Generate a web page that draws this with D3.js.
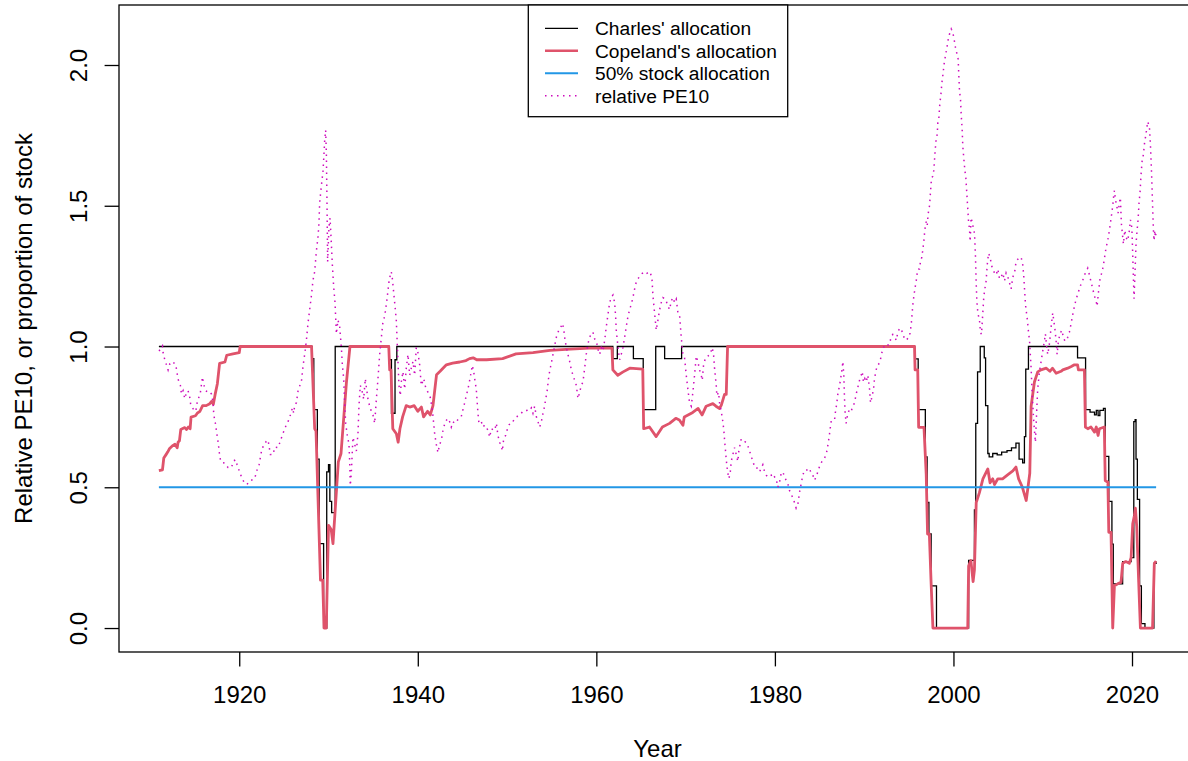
<!DOCTYPE html>
<html>
<head>
<meta charset="utf-8">
<script src="https://cdn.jsdelivr.net/npm/d3@7"></script>
<style>
  body { margin: 0; background: #fff; }
  svg { display: block; font-family: "Liberation Sans", Arial, sans-serif; }
</style>
</head>
<body>
<svg id="svg0" width="1188" height="761"></svg>
<script>

// ---- data: [year, value] ----
var charlesAlloc = [
  [1911.0,1.0],[1928.15,0.957],[1928.35,0.776],[1928.75,0.60],[1928.95,0.30],[1929.45,0.0],
  [1929.8,0.555],[1930.0,0.58],[1930.15,0.45],[1930.35,0.41],[1930.75,1.0],[1936.8,0.953],
  [1937.05,0.763],[1937.45,0.953],[1937.65,1.0],[1961.85,0.957],[1962.35,1.0],[1964.15,0.957],
  [1965.25,0.776],[1966.65,1.0],[1967.65,0.957],[1969.55,1.0],[1995.65,0.956],[1996.05,0.776],
  [1996.85,0.608],[1997.05,0.446],[1997.25,0.334],[1997.5,0.15],[1998.1,0.0],[2001.7,0.24],
  [2002.35,0.42],[2002.5,0.727],[2002.7,0.91],[2003.0,1.0],[2003.45,0.96],[2003.6,0.79],
  [2003.85,0.62],[2004.0,0.608],[2004.4,0.62],[2004.9,0.615],[2005.4,0.625],[2006.0,0.63],
  [2006.5,0.64],[2007.0,0.657],[2007.35,0.60],[2007.75,0.587],[2007.95,0.68],[2008.1,0.92],
  [2008.4,1.0],[2013.9,0.96],[2014.8,0.776],[2015.3,0.767],[2015.8,0.757],[2016.0,0.773],
  [2016.2,0.755],[2016.4,0.773],[2016.8,0.78],[2017.0,0.61],[2017.4,0.45],[2017.75,0.298],
  [2017.9,0.157],[2018.95,0.236],[2019.9,0.25],[2020.2,0.733],[2020.35,0.74],[2020.45,0.60],
  [2020.6,0.457],[2020.85,0.15],[2021.05,0.016],[2021.45,0.0],[2022.45,0.23],[2022.7,0.236]
];

var copelandAlloc = [
  [1911.0,0.559],[1911.4,0.562],[1911.55,0.604],[1911.8,0.616],[1912.0,0.626],[1912.2,0.638],
  [1912.5,0.647],[1912.8,0.653],[1913.05,0.64],[1913.15,0.66],[1913.3,0.665],[1913.45,0.705],
  [1913.9,0.712],[1914.1,0.705],[1914.3,0.714],[1914.5,0.708],[1914.6,0.749],[1915.1,0.754],
  [1915.3,0.763],[1915.6,0.77],[1915.9,0.79],[1916.3,0.79],[1916.7,0.797],[1916.9,0.805],
  [1917.1,0.795],[1917.3,0.83],[1917.55,0.868],[1917.8,0.94],[1918.4,0.945],[1918.6,0.969],
  [1919.3,0.974],[1920.0,0.978],[1920.1,1.0],[1928.1,1.0],[1928.45,0.708],[1928.6,0.70],
  [1929.1,0.17],[1929.35,0.17],[1929.5,0.0],[1929.75,0.0],[1930.0,0.365],[1930.3,0.35],
  [1930.5,0.30],[1931.1,0.59],[1931.4,0.62],[1932.0,0.87],[1932.4,1.0],[1936.75,1.0],
  [1936.85,0.917],[1937.0,0.917],[1937.2,0.708],[1937.6,0.69],[1937.8,0.66],[1938.0,0.708],
  [1938.3,0.75],[1938.7,0.79],[1939.1,0.785],[1939.6,0.79],[1940.0,0.77],[1940.4,0.785],
  [1940.65,0.75],[1941.1,0.77],[1941.4,0.757],[1941.7,0.79],[1942.1,0.90],[1942.5,0.912],
  [1943.2,0.935],[1943.9,0.941],[1944.7,0.945],[1945.4,0.95],[1945.8,0.957],[1946.2,0.96],
  [1946.6,0.953],[1947.7,0.953],[1949.5,0.957],[1951.0,0.974],[1952.9,0.978],[1954.8,0.986],
  [1956.6,0.99],[1959.2,0.994],[1961.75,0.994],[1961.85,0.917],[1962.4,0.898],[1963.0,0.91],
  [1963.75,0.923],[1965.2,0.92],[1965.3,0.708],[1965.95,0.714],[1966.7,0.68],[1967.4,0.714],
  [1968.2,0.727],[1968.9,0.745],[1969.3,0.739],[1969.7,0.72],[1969.85,0.75],[1970.8,0.766],
  [1971.4,0.78],[1971.85,0.757],[1972.3,0.788],[1973.05,0.797],[1973.4,0.788],[1973.8,0.78],
  [1974.0,0.792],[1974.36,0.83],[1974.55,0.83],[1974.7,1.0],[1995.64,1.0],[1995.7,0.917],
  [1996.0,0.917],[1996.1,0.713],[1996.7,0.713],[1996.95,0.545],[1997.1,0.334],[1997.3,0.334],
  [1997.5,0.158],[1997.7,0.0],[2001.6,0.0],[2001.7,0.22],[2001.95,0.24],[2002.2,0.165],
  [2002.35,0.207],[2002.55,0.446],[2002.9,0.48],[2003.3,0.53],[2003.85,0.565],[2004.1,0.516],
  [2004.4,0.53],[2004.6,0.51],[2004.97,0.53],[2005.5,0.53],[2006.1,0.545],[2006.65,0.558],
  [2007.0,0.572],[2007.3,0.53],[2007.7,0.502],[2008.15,0.453],[2008.35,0.50],[2008.55,0.55],
  [2008.7,0.788],[2009.07,0.874],[2009.44,0.91],[2009.8,0.917],[2010.4,0.923],[2010.8,0.912],
  [2011.1,0.923],[2011.5,0.905],[2012.05,0.912],[2012.25,0.917],[2012.8,0.923],[2013.2,0.929],
  [2013.55,0.935],[2013.9,0.935],[2014.0,0.917],[2014.67,0.917],[2014.78,0.714],[2015.05,0.708],
  [2015.4,0.714],[2015.8,0.696],[2016.0,0.714],[2016.2,0.684],[2016.35,0.708],[2016.9,0.714],
  [2017.0,0.524],[2017.3,0.518],[2017.4,0.34],[2017.65,0.34],[2017.84,0.0],[2018.03,0.15],
  [2018.4,0.157],[2018.77,0.163],[2018.96,0.23],[2019.3,0.236],[2019.7,0.23],[2019.9,0.25],
  [2020.08,0.37],[2020.27,0.40],[2020.38,0.426],[2020.53,0.36],[2020.75,0.163],[2020.94,0.0],
  [2022.3,0.0],[2022.5,0.23],[2022.7,0.238]
];

var stockFifty = [[1911.0,0.5],[2022.7,0.5]];

var relativePE10 = [
  [1911.02,0.984],[1911.40,1.002],[1911.47,0.978],[1911.66,0.953],[1911.85,0.935],[1912.03,0.917],
  [1912.22,0.938],[1912.52,0.947],[1912.89,0.935],[1913.15,0.884],[1913.41,0.862],[1913.53,0.831],
  [1913.71,0.843],[1913.90,0.815],[1914.09,0.837],[1914.27,0.843],[1914.46,0.819],[1914.57,0.792],
  [1914.83,0.779],[1915.13,0.770],[1915.28,0.800],[1915.50,0.822],[1915.65,0.837],[1915.88,0.892],
  [1916.03,0.864],[1916.25,0.843],[1916.51,0.837],[1916.70,0.839],[1916.89,0.831],[1917.07,0.800],
  [1917.15,0.757],[1917.33,0.727],[1917.52,0.684],[1917.67,0.653],[1917.74,0.629],[1917.89,0.598],
  [1918.04,0.588],[1918.38,0.586],[1918.75,0.570],[1919.12,0.570],[1919.39,0.594],[1919.61,0.598],
  [1919.76,0.580],[1920.06,0.553],[1920.36,0.528],[1920.62,0.515],[1920.88,0.510],[1921.10,0.521],
  [1921.36,0.525],[1921.74,0.531],[1921.92,0.555],[1922.22,0.580],[1922.48,0.626],[1922.75,0.653],
  [1923.04,0.663],[1923.23,0.668],[1923.49,0.616],[1923.79,0.616],[1923.98,0.643],[1924.35,0.641],
  [1924.61,0.665],[1924.91,0.692],[1925.17,0.714],[1925.47,0.733],[1925.73,0.757],[1925.96,0.782],
  [1926.10,0.763],[1926.22,0.794],[1926.40,0.800],[1926.59,0.843],[1926.77,0.860],[1926.96,0.874],
  [1927.14,0.929],[1927.33,0.972],[1927.52,1.021],[1927.70,1.082],[1927.89,1.131],[1928.08,1.180],
  [1928.26,1.235],[1928.45,1.266],[1928.64,1.339],[1928.82,1.388],[1928.93,1.438],[1929.01,1.511],
  [1929.20,1.572],[1929.38,1.621],[1929.49,1.683],[1929.57,1.732],[1929.68,1.768],[1929.76,1.683],
  [1929.83,1.511],[1929.90,1.300],[1930.05,1.425],[1930.17,1.456],[1930.32,1.364],[1930.43,1.290],
  [1930.58,1.211],[1930.73,1.156],[1930.88,1.045],[1931.06,1.094],[1931.25,1.070],[1931.44,0.996],
  [1931.55,0.935],[1931.70,0.886],[1931.81,0.800],[1931.92,0.727],[1932.11,0.684],[1932.29,0.653],
  [1932.37,0.592],[1932.44,0.506],[1932.56,0.555],[1932.74,0.678],[1932.93,0.653],[1933.12,0.629],
  [1933.30,0.690],[1933.41,0.788],[1933.56,0.862],[1933.75,0.843],[1933.94,0.813],[1934.12,0.886],
  [1934.24,0.855],[1934.42,0.813],[1934.61,0.788],[1934.80,0.770],[1934.98,0.757],[1935.17,0.727],
  [1935.36,0.813],[1935.54,0.886],[1935.73,0.972],[1935.92,1.033],[1936.10,1.088],[1936.29,1.107],
  [1936.55,1.168],[1936.77,1.229],[1936.92,1.254],[1937.03,1.266],[1937.15,1.241],[1937.30,1.192],
  [1937.45,1.143],[1937.59,1.094],[1937.67,1.033],[1937.78,0.947],[1937.89,0.862],[1938.04,0.825],
  [1938.15,0.874],[1938.34,0.911],[1938.53,0.849],[1938.71,0.923],[1938.90,0.972],[1939.09,0.898],
  [1939.27,0.923],[1939.46,0.947],[1939.65,0.898],[1939.83,0.996],[1940.02,0.978],[1940.21,0.935],
  [1940.39,0.862],[1940.66,0.886],[1940.88,0.855],[1941.14,0.837],[1941.40,0.819],[1941.63,0.776],
  [1941.78,0.727],[1941.89,0.690],[1942.07,0.653],[1942.26,0.623],[1942.45,0.653],[1942.63,0.665],
  [1942.82,0.702],[1943.08,0.733],[1943.38,0.745],[1943.57,0.733],[1943.75,0.714],[1943.94,0.733],
  [1944.13,0.727],[1944.31,0.733],[1944.61,0.745],[1944.87,0.751],[1945.06,0.776],[1945.25,0.800],
  [1945.43,0.825],[1945.62,0.849],[1945.81,0.880],[1945.99,0.911],[1946.11,0.933],[1946.26,0.911],
  [1946.37,0.886],[1946.55,0.849],[1946.63,0.813],[1946.74,0.763],[1946.85,0.727],[1947.11,0.733],
  [1947.30,0.714],[1947.49,0.721],[1947.67,0.714],[1947.86,0.702],[1948.05,0.678],[1948.24,0.708],
  [1948.42,0.705],[1948.61,0.702],[1948.80,0.727],[1948.98,0.684],[1949.17,0.659],[1949.36,0.647],
  [1949.47,0.629],[1949.62,0.672],[1949.84,0.684],[1949.99,0.702],[1950.21,0.721],[1950.48,0.733],
  [1950.66,0.733],[1950.85,0.745],[1951.11,0.751],[1951.33,0.757],[1951.60,0.763],[1951.78,0.770],
  [1952.08,0.770],[1952.34,0.776],[1952.53,0.773],[1952.72,0.782],[1952.90,0.763],[1953.09,0.788],
  [1953.28,0.751],[1953.46,0.733],[1953.65,0.714],[1953.84,0.733],[1954.02,0.763],[1954.21,0.788],
  [1954.32,0.813],[1954.47,0.837],[1954.58,0.868],[1954.69,0.898],[1954.84,0.923],[1954.96,0.941],
  [1955.07,0.960],[1955.22,0.984],[1955.33,1.002],[1955.44,1.021],[1955.52,1.033],[1955.63,1.045],
  [1955.81,1.058],[1955.96,1.064],[1956.19,1.082],[1956.34,1.064],[1956.45,1.033],[1956.64,0.996],
  [1956.82,0.972],[1957.01,0.947],[1957.20,0.917],[1957.38,0.898],[1957.57,0.880],[1957.76,0.862],
  [1957.94,0.815],[1958.13,0.837],[1958.31,0.862],[1958.50,0.874],[1958.69,0.923],[1958.87,0.972],
  [1959.06,1.009],[1959.25,1.033],[1959.43,1.045],[1959.62,1.051],[1959.81,1.027],[1959.99,1.021],
  [1960.18,0.990],[1960.37,0.972],[1960.55,0.996],[1960.74,0.984],[1960.93,1.021],[1961.11,1.070],
  [1961.30,1.113],[1961.49,1.156],[1961.67,1.174],[1961.86,1.183],[1962.05,1.156],[1962.16,1.107],
  [1962.23,1.058],[1962.35,1.021],[1962.50,0.978],[1962.61,0.953],[1962.79,0.972],[1962.98,0.996],
  [1963.17,1.033],[1963.35,1.070],[1963.54,1.107],[1963.73,1.131],[1963.91,1.150],[1964.10,1.174],
  [1964.29,1.205],[1964.47,1.229],[1964.66,1.241],[1964.85,1.248],[1965.15,1.260],[1965.41,1.266],
  [1965.67,1.260],[1965.89,1.266],[1966.04,1.263],[1966.23,1.241],[1966.34,1.180],[1966.45,1.143],
  [1966.60,1.094],[1966.71,1.058],[1966.90,1.094],[1967.09,1.131],[1967.27,1.156],[1967.46,1.174],
  [1967.76,1.168],[1968.02,1.143],[1968.21,1.131],[1968.39,1.162],[1968.58,1.174],[1968.77,1.156],
  [1968.95,1.168],[1969.14,1.119],[1969.32,1.113],[1969.51,1.033],[1969.69,0.972],[1969.88,0.960],
  [1970.07,0.898],[1970.25,0.849],[1970.44,0.800],[1970.63,0.788],[1970.81,0.837],[1971.00,0.898],
  [1971.19,0.966],[1971.37,0.947],[1971.56,0.917],[1971.75,0.898],[1971.86,0.880],[1972.01,0.935],
  [1972.23,0.960],[1972.49,0.966],[1972.75,0.972],[1972.98,0.996],[1973.13,0.972],[1973.24,0.923],
  [1973.43,0.862],[1973.50,0.825],[1973.69,0.837],[1973.80,0.800],[1973.99,0.770],[1974.17,0.733],
  [1974.28,0.702],[1974.40,0.653],[1974.47,0.629],[1974.55,0.598],[1974.66,0.567],[1974.77,0.543],
  [1974.84,0.531],[1974.99,0.549],[1975.11,0.592],[1975.29,0.616],[1975.48,0.641],[1975.67,0.616],
  [1975.85,0.592],[1975.96,0.629],[1976.11,0.653],[1976.23,0.672],[1976.49,0.665],[1976.79,0.659],
  [1976.97,0.647],[1977.16,0.629],[1977.35,0.610],[1977.53,0.592],[1977.72,0.574],[1977.91,0.574],
  [1978.09,0.561],[1978.28,0.555],[1978.47,0.567],[1978.65,0.580],[1978.84,0.555],[1979.03,0.543],
  [1979.21,0.537],[1979.40,0.537],[1979.59,0.543],[1979.77,0.531],[1979.96,0.537],[1980.14,0.531],
  [1980.33,0.500],[1980.52,0.518],[1980.70,0.549],[1980.89,0.555],[1981.08,0.537],[1981.26,0.525],
  [1981.45,0.512],[1981.64,0.488],[1981.82,0.475],[1982.01,0.463],[1982.20,0.445],[1982.38,0.426],
  [1982.57,0.439],[1982.76,0.482],[1982.94,0.512],[1983.13,0.543],[1983.32,0.561],[1983.50,0.561],
  [1983.69,0.561],[1983.88,0.567],[1984.06,0.549],[1984.25,0.543],[1984.44,0.525],[1984.62,0.537],
  [1984.81,0.555],[1985.00,0.574],[1985.18,0.586],[1985.37,0.598],[1985.56,0.604],[1985.74,0.616],
  [1985.86,0.635],[1986.01,0.665],[1986.12,0.690],[1986.19,0.708],[1986.30,0.733],[1986.49,0.733],
  [1986.68,0.739],[1986.79,0.770],[1986.94,0.800],[1987.05,0.831],[1987.16,0.849],[1987.31,0.874],
  [1987.42,0.898],[1987.54,0.923],[1987.61,0.947],[1987.72,0.898],[1987.80,0.813],[1987.87,0.763],
  [1987.98,0.727],[1988.17,0.763],[1988.36,0.776],[1988.54,0.770],[1988.73,0.788],[1988.92,0.800],
  [1989.10,0.831],[1989.29,0.855],[1989.48,0.880],[1989.66,0.898],[1989.78,0.911],[1989.92,0.874],
  [1990.07,0.886],[1990.22,0.874],[1990.41,0.898],[1990.60,0.849],[1990.71,0.800],[1990.90,0.825],
  [1991.05,0.849],[1991.16,0.886],[1991.34,0.917],[1991.53,0.935],[1991.72,0.941],[1991.91,0.966],
  [1992.09,0.994],[1992.28,1.001],[1992.47,0.997],[1992.65,1.005],[1992.84,1.008],[1993.03,1.036],
  [1993.21,1.043],[1993.40,1.036],[1993.59,1.022],[1993.77,1.050],[1993.96,1.064],[1994.15,1.064],
  [1994.33,1.043],[1994.52,1.029],[1994.71,1.022],[1994.89,1.029],[1995.08,1.036],[1995.27,1.078],
  [1995.38,1.120],[1995.45,1.148],[1995.56,1.177],[1995.68,1.205],[1995.83,1.233],[1995.94,1.261],
  [1996.05,1.275],[1996.20,1.275],[1996.31,1.303],[1996.46,1.317],[1996.57,1.345],[1996.68,1.373],
  [1996.80,1.416],[1996.95,1.444],[1997.06,1.430],[1997.17,1.472],[1997.32,1.500],[1997.43,1.549],
  [1997.54,1.598],[1997.69,1.605],[1997.80,1.626],[1997.95,1.696],[1998.07,1.739],[1998.18,1.753],
  [1998.25,1.795],[1998.36,1.809],[1998.48,1.865],[1998.59,1.893],[1998.70,1.935],[1998.81,1.963],
  [1998.96,2.005],[1999.11,2.034],[1999.26,2.060],[1999.41,2.090],[1999.56,2.110],[1999.75,2.128],
  [1999.93,2.115],[2000.08,2.090],[2000.23,2.062],[2000.38,2.041],[2000.53,2.020],[2000.60,1.963],
  [2000.68,1.907],[2000.79,1.879],[2000.87,1.823],[2000.98,1.767],[2001.05,1.710],[2001.16,1.668],
  [2001.28,1.626],[2001.39,1.598],[2001.50,1.542],[2001.61,1.486],[2001.69,1.444],[2001.80,1.416],
  [2001.87,1.373],[2001.98,1.458],[2002.17,1.430],[2002.36,1.402],[2002.47,1.317],[2002.54,1.233],
  [2002.62,1.162],[2002.73,1.120],[2002.92,1.092],[2003.03,1.050],[2003.14,1.043],[2003.29,1.120],
  [2003.40,1.177],[2003.52,1.205],[2003.66,1.233],[2003.78,1.289],[2003.93,1.331],[2004.11,1.317],
  [2004.26,1.289],[2004.41,1.275],[2004.60,1.261],[2004.78,1.254],[2004.97,1.275],[2005.16,1.240],
  [2005.34,1.247],[2005.53,1.261],[2005.72,1.233],[2005.90,1.261],[2006.09,1.247],[2006.28,1.226],
  [2006.46,1.205],[2006.65,1.247],[2006.84,1.261],[2007.02,1.303],[2007.21,1.310],[2007.40,1.317],
  [2007.58,1.317],[2007.77,1.289],[2007.88,1.247],[2007.96,1.205],[2008.07,1.148],[2008.18,1.120],
  [2008.29,1.092],[2008.41,1.050],[2008.52,1.022],[2008.70,0.923],[2008.81,0.837],[2008.96,0.751],
  [2009.07,0.702],[2009.18,0.660],[2009.33,0.776],[2009.44,0.850],[2009.63,0.910],[2009.82,0.947],
  [2010.00,0.984],[2010.19,1.020],[2010.30,1.045],[2010.45,0.996],[2010.56,0.972],[2010.75,1.009],
  [2010.94,1.070],[2011.12,1.119],[2011.23,1.094],[2011.38,1.058],[2011.50,1.020],[2011.61,0.972],
  [2011.76,1.020],[2011.94,1.045],[2012.13,1.058],[2012.32,1.033],[2012.47,1.020],[2012.62,1.020],
  [2012.80,1.033],[2012.99,1.051],[2013.18,1.082],[2013.36,1.113],[2013.55,1.143],[2013.74,1.168],
  [2013.92,1.186],[2014.11,1.205],[2014.30,1.223],[2014.48,1.235],[2014.67,1.254],[2014.86,1.266],
  [2015.04,1.278],[2015.23,1.254],[2015.42,1.229],[2015.60,1.205],[2015.79,1.180],[2015.98,1.162],
  [2016.09,1.143],[2016.24,1.192],[2016.42,1.241],[2016.65,1.266],[2016.80,1.290],[2016.95,1.321],
  [2017.10,1.352],[2017.28,1.376],[2017.47,1.413],[2017.66,1.456],[2017.84,1.499],[2017.95,1.536],
  [2018.03,1.554],[2018.14,1.523],[2018.29,1.499],[2018.44,1.474],[2018.59,1.511],[2018.70,1.529],
  [2018.81,1.437],[2018.92,1.401],[2019.04,1.364],[2019.19,1.413],[2019.33,1.388],[2019.52,1.376],
  [2019.71,1.413],[2019.82,1.450],[2019.93,1.437],[2020.01,1.401],[2020.08,1.327],[2020.16,1.241],
  [2020.23,1.170],[2020.34,1.266],[2020.45,1.364],[2020.57,1.413],[2020.68,1.450],[2020.79,1.511],
  [2020.90,1.548],[2021.01,1.609],[2021.13,1.658],[2021.28,1.683],[2021.39,1.719],[2021.57,1.756],
  [2021.76,1.799],[2021.95,1.780],[2022.06,1.719],[2022.17,1.634],[2022.25,1.560],[2022.32,1.486],
  [2022.40,1.413],[2022.47,1.376],[2022.55,1.413],[2022.62,1.388],[2022.70,1.407]
];

var xTicks = [1920, 1940, 1960, 1980, 2000, 2020];
var yTicks = [0, 0.5, 1.0, 1.5, 2.0];
var yTickLabels = ['0.0', '0.5', '1.0', '1.5', '2.0'];
var legendLabels = ["Charles' allocation", "Copeland's allocation", "50% stock allocation", "relative PE10"];

// ---- layout ----
var width = 1188;
var height = 761;
var boxLeft = 119;
var boxRight = 1196;
var boxTop = 5;
var boxBottom = 652;

var svg0 = d3.select('#svg0');

svg0.append('rect')
    .attr('width', width)
    .attr('height', height)
    .attr('fill', '#ffffff');

// R style: range of data plus 4% on each side
var xExt = d3.extent(charlesAlloc, function(d) { return d[0]; });
var xPad = (xExt[1] - xExt[0]) * 0.04;
var yMax = d3.max(relativePE10, function(d) { return d[1]; });
var yPad = yMax * 0.04;

var x = d3.scaleLinear()
    .domain([xExt[0] - xPad, xExt[1] + xPad])
    .range([boxLeft, boxRight]);

var y = d3.scaleLinear()
    .domain([-yPad, yMax + yPad])
    .range([boxBottom, boxTop]);

var line = d3.line()
    .x(function(d) { return x(d[0]); })
    .y(function(d) { return y(d[1]); });

var stepLine = d3.line()
    .curve(d3.curveStepAfter)
    .x(function(d) { return x(d[0]); })
    .y(function(d) { return y(d[1]); });

// ---- series ----
svg0.append('path')
    .attr('d', stepLine(charlesAlloc))
    .attr('fill', 'none')
    .attr('stroke', '#000000')
    .attr('stroke-width', 1.3);

svg0.append('path')
    .attr('d', line(copelandAlloc))
    .attr('fill', 'none')
    .attr('stroke', '#DF536B')
    .attr('stroke-width', 2.8)
    .attr('stroke-linejoin', 'round');

svg0.append('path')
    .attr('d', line(stockFifty))
    .attr('fill', 'none')
    .attr('stroke', '#2297E6')
    .attr('stroke-width', 2);

svg0.append('path')
    .attr('d', line(relativePE10))
    .attr('fill', 'none')
    .attr('stroke', '#CD0BBC')
    .attr('stroke-width', 1.5)
    .attr('stroke-dasharray', '1.5,4.5');

// ---- axes ----
var xAxis = svg0.append('g')
    .attr('transform', 'translate(0,' + boxBottom + ')')
    .call(d3.axisBottom(x).tickValues(xTicks).tickFormat(d3.format('d')).tickSize(14.4).tickSizeOuter(0));
xAxis.select('.domain').remove();
xAxis.selectAll('line').attr('stroke', '#000').attr('stroke-width', 1.3);
xAxis.selectAll('text')
    .attr('y', 51)
    .attr('dy', null)
    .attr('fill', '#000')
    .style('font-size', '24px')
    .style('font-family', '"Liberation Sans", Arial, sans-serif');

var yAxis = svg0.append('g')
    .attr('transform', 'translate(' + boxLeft + ',0)')
    .call(d3.axisLeft(y).tickValues(yTicks).tickFormat(function(d, i) { return yTickLabels[i]; }).tickSize(14.4).tickSizeOuter(0));
yAxis.select('.domain').remove();
yAxis.selectAll('line').attr('stroke', '#000').attr('stroke-width', 1.3);
yAxis.selectAll('text')
    .attr('x', null)
    .attr('dy', null)
    .attr('text-anchor', 'middle')
    .attr('transform', 'translate(-32,0) rotate(-90)')
    .attr('fill', '#000')
    .style('font-size', '24px')
    .style('font-family', '"Liberation Sans", Arial, sans-serif');

// plot box
svg0.append('rect')
    .attr('x', boxLeft)
    .attr('y', boxTop)
    .attr('width', boxRight - boxLeft)
    .attr('height', boxBottom - boxTop)
    .attr('fill', 'none')
    .attr('stroke', '#000')
    .attr('stroke-width', 1.3);

// axis titles
svg0.append('text')
    .attr('x', (boxLeft + boxRight) / 2)
    .attr('y', 756.5)
    .attr('text-anchor', 'middle')
    .style('font-size', '24px')
    .text('Year');

svg0.append('text')
    .attr('transform', 'translate(31.5,' + (boxTop + boxBottom) / 2 + ') rotate(-90)')
    .attr('text-anchor', 'middle')
    .style('font-size', '24px')
    .text('Relative PE10, or proportion of stock');

// ---- legend ----
var legendColors = ['#000000', '#DF536B', '#2297E6', '#CD0BBC'];
var legendWidths = [1.3, 2.4, 2, 1.5];
var legendDash = [null, null, null, '1.5,4.5'];

var legend = svg0.append('g');

legend.append('rect')
    .attr('x', 528.3)
    .attr('y', boxTop)
    .attr('width', 259.4)
    .attr('height', 111.7)
    .attr('fill', '#ffffff')
    .attr('stroke', '#000')
    .attr('stroke-width', 1.3);

var legendRow = legend.selectAll('g.row')
    .data(legendLabels)
    .enter()
    .append('g')
    .attr('class', 'row')
    .attr('transform', function(d, i) { return 'translate(0,' + (28.3 + i * 22.45) + ')'; });

legendRow.append('line')
    .attr('x1', 545)
    .attr('x2', 578)
    .attr('y1', 0)
    .attr('y2', 0)
    .attr('stroke', function(d, i) { return legendColors[i]; })
    .attr('stroke-width', function(d, i) { return legendWidths[i]; })
    .attr('stroke-dasharray', function(d, i) { return legendDash[i]; });

legendRow.append('text')
    .attr('x', 595)
    .attr('y', 6.9)
    .style('font-size', '19.2px')
    .text(function(d) { return d; });

</script>
</body>
</html>
